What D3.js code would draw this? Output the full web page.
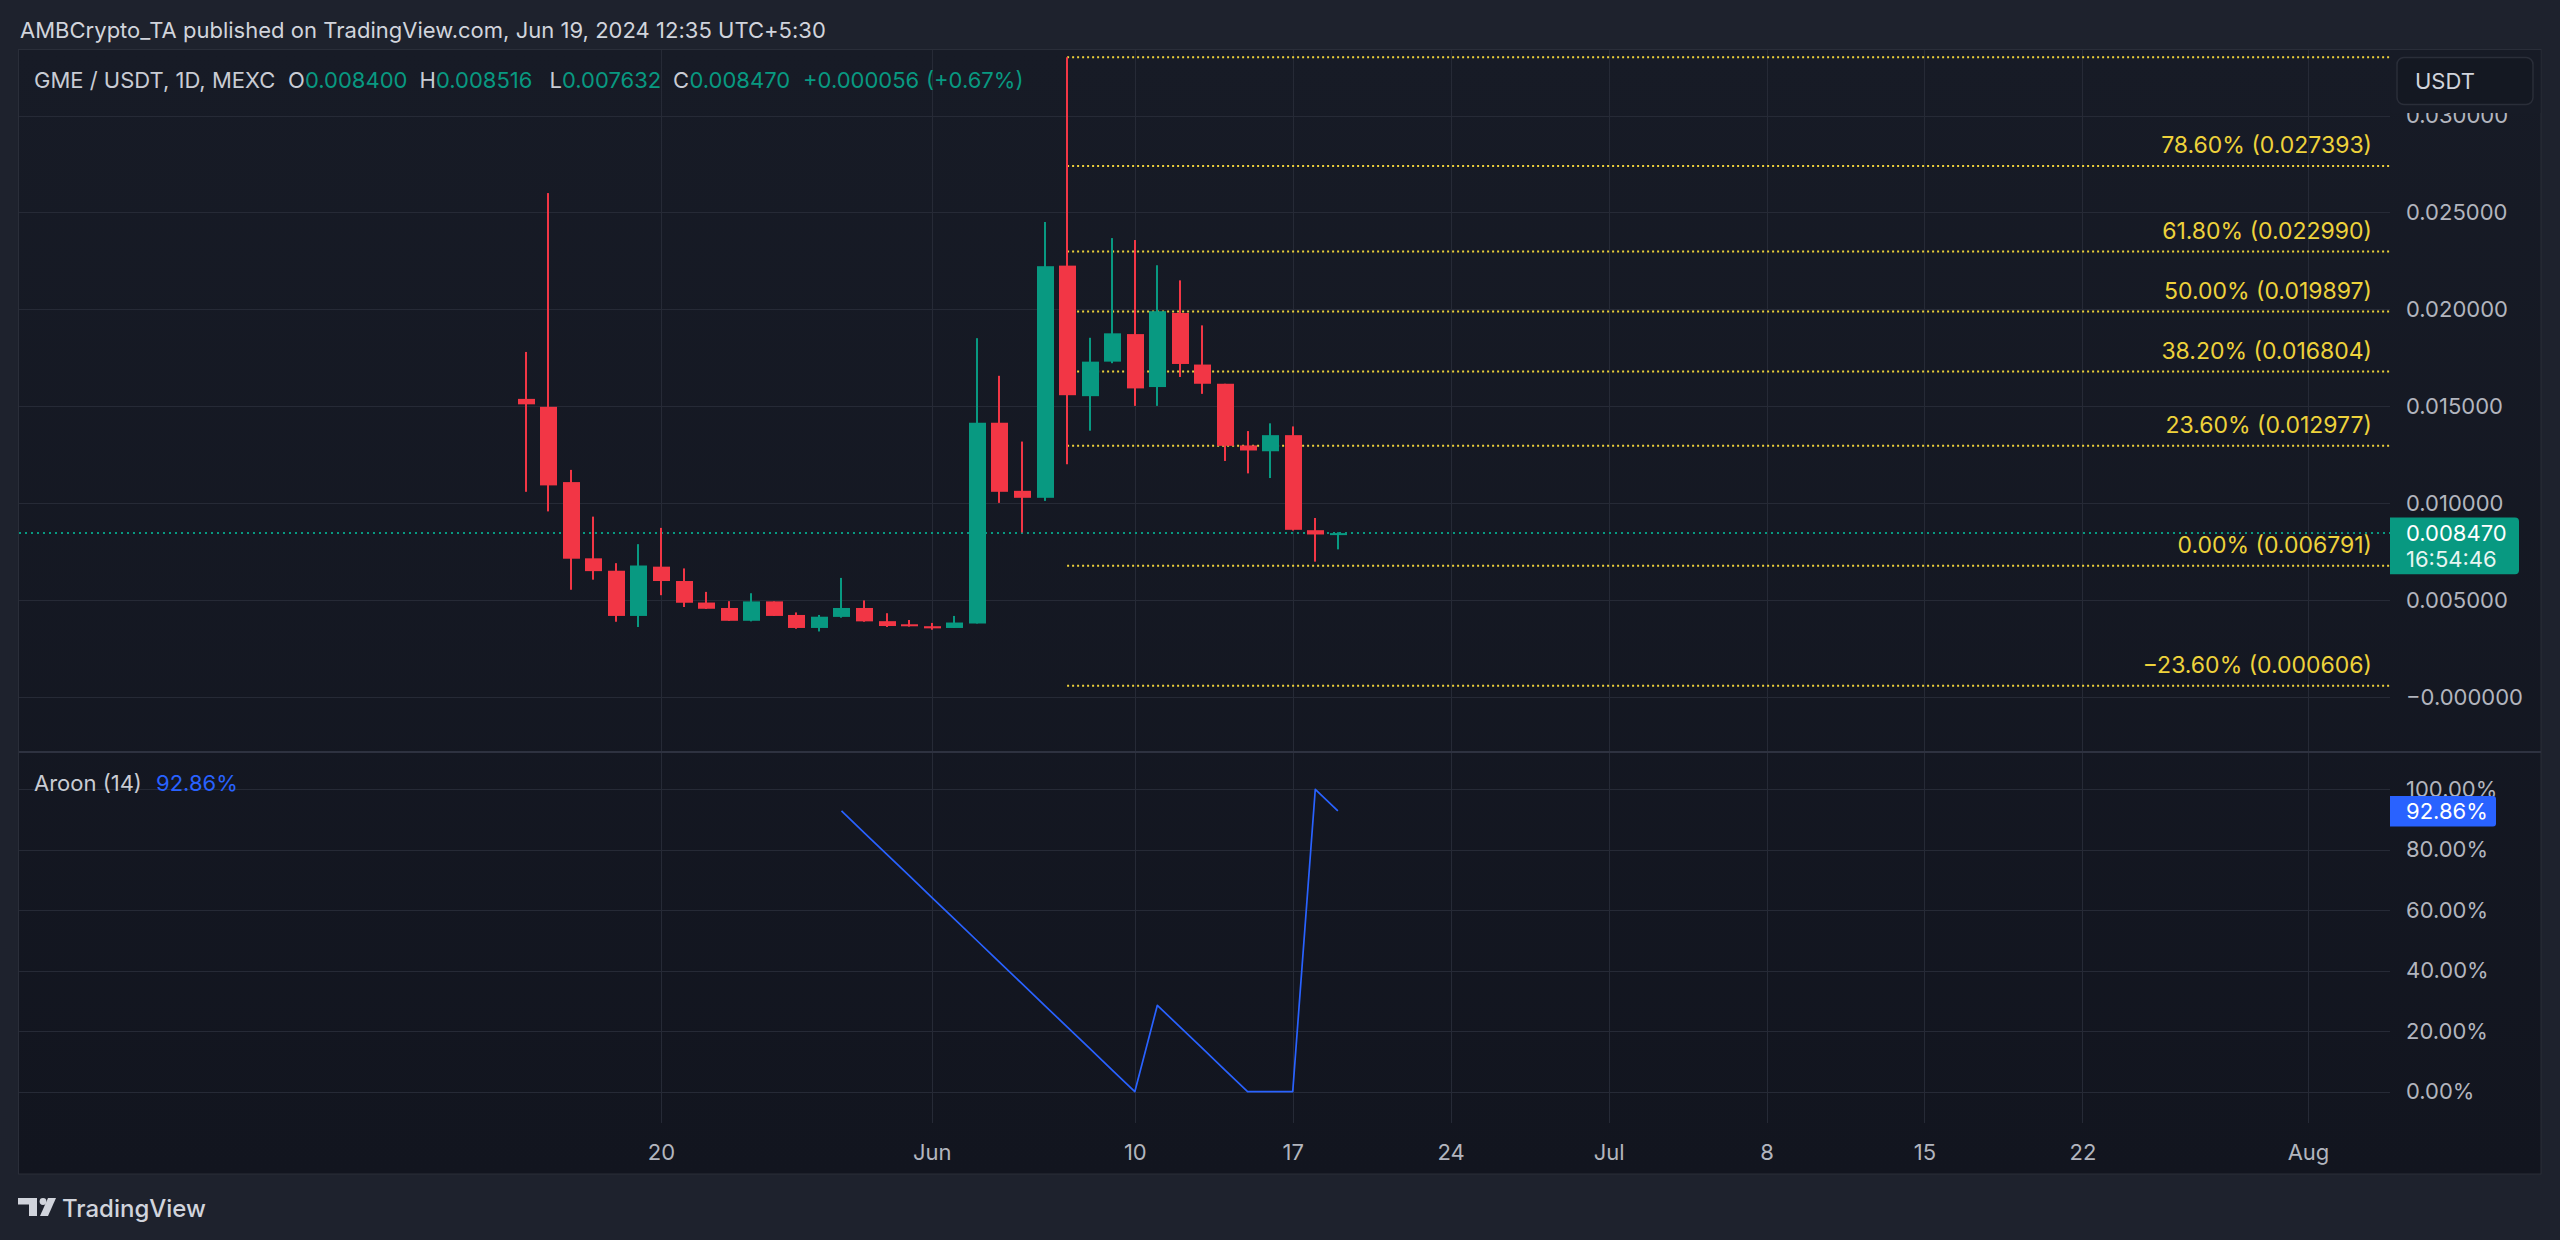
<!DOCTYPE html>
<html><head><meta charset="utf-8">
<script src="https://cdn.jsdelivr.net/npm/d3@7"></script>
<style>html,body{margin:0;padding:0;background:#1e222d;overflow:hidden}svg{display:block}</style>
</head><body><svg id="c" width="2560" height="1240"></svg>
<script>
// ---------- DATA ----------
const dates  = ["2024-05-14","2024-05-15","2024-05-16","2024-05-17","2024-05-18","2024-05-19","2024-05-20","2024-05-21","2024-05-22","2024-05-23","2024-05-24","2024-05-25","2024-05-26","2024-05-27","2024-05-28","2024-05-29","2024-05-30","2024-05-31","2024-06-01","2024-06-02","2024-06-03","2024-06-04","2024-06-05","2024-06-06","2024-06-07","2024-06-08","2024-06-09","2024-06-10","2024-06-11","2024-06-12","2024-06-13","2024-06-14","2024-06-15","2024-06-16","2024-06-17","2024-06-18","2024-06-19"];
const opens  = [0.01539,0.01498,0.01110,0.00717,0.00653,0.00420,0.00674,0.00600,0.00489,0.00461,0.00395,0.00495,0.00425,0.00358,0.00415,0.00461,0.00393,0.00377,0.00367,0.00358,0.00381,0.01416,0.01065,0.01029,0.02226,0.01553,0.01731,0.01873,0.01600,0.01982,0.01716,0.01617,0.01299,0.01269,0.01352,0.00862,0.00840];
const highs  = [0.01781,0.02600,0.01173,0.00932,0.00692,0.00790,0.00874,0.00665,0.00544,0.00496,0.00537,0.00495,0.00438,0.00425,0.00616,0.00500,0.00434,0.00399,0.00384,0.00420,0.01852,0.01658,0.01319,0.02451,0.03300,0.01854,0.02368,0.02358,0.02228,0.02150,0.01918,0.01617,0.01373,0.01413,0.01397,0.00925,0.008516];
const lows   = [0.01060,0.00959,0.00555,0.00607,0.00390,0.00363,0.00527,0.00466,0.00456,0.00395,0.00392,0.00420,0.00354,0.00340,0.00411,0.00390,0.00363,0.00365,0.00349,0.00358,0.00381,0.01003,0.00850,0.01013,0.01202,0.01375,0.01723,0.01503,0.01503,0.01652,0.01565,0.01219,0.01155,0.01131,0.00860,0.00700,0.007632];
const closes = [0.01511,0.01093,0.00715,0.00651,0.00420,0.00680,0.00600,0.00488,0.00457,0.00395,0.00495,0.00420,0.00358,0.00416,0.00461,0.00392,0.00368,0.00367,0.00356,0.00386,0.01416,0.01060,0.01029,0.02223,0.01558,0.01731,0.01877,0.01593,0.01991,0.01719,0.01617,0.01297,0.01273,0.01352,0.00864,0.00840,0.00847];

const aroonDates = ["2024-05-28","2024-05-29","2024-05-30","2024-05-31","2024-06-01","2024-06-02","2024-06-03","2024-06-04","2024-06-05","2024-06-06","2024-06-07","2024-06-08","2024-06-09","2024-06-10","2024-06-11","2024-06-12","2024-06-13","2024-06-14","2024-06-15","2024-06-16","2024-06-17","2024-06-18","2024-06-19"];
const aroonValues = [92.86,85.71,78.57,71.43,64.29,57.14,50.00,42.86,35.71,28.57,21.43,14.29,7.14,0,28.57,21.43,14.29,7.14,0,0,0,100,92.86];

const fibStartDate = "2024-06-07";
const fibValues = [0.033003,0.027393,0.022990,0.019897,0.016804,0.012977,0.006791,0.000606];
const fibLabels = ["","78.60% (0.027393)","61.80% (0.022990)","50.00% (0.019897)","38.20% (0.016804)","23.60% (0.012977)","0.00% (0.006791)","\u221223.60% (0.000606)"];

const lastPrice = 0.008470;
const lastPriceLabel = "0.008470";
const countdownLabel = "16:54:46";
const lastAroon = 92.86;
const lastAroonLabel = "92.86%";

const priceTicks = [0,0.005,0.010,0.015,0.020,0.025,0.030];
const priceTickLabels = ["\u22120.000000","0.005000","0.010000","0.015000","0.020000","0.025000","0.030000"];
const aroonTicks = [0,20,40,60,80,100];
const aroonTickLabels = ["0.00%","20.00%","40.00%","60.00%","80.00%","100.00%"];
const xTickDates = ["2024-05-20","2024-06-01","2024-06-10","2024-06-17","2024-06-24","2024-07-01","2024-07-08","2024-07-15","2024-07-22","2024-08-01"];
const xTickLabels = ["20","Jun","10","17","24","Jul","8","15","22","Aug"];

const headerText = "AMBCrypto_TA published on TradingView.com, Jun 19, 2024 12:35 UTC+5:30";
const legendTitle = "GME / USDT, 1D, MEXC";
const legendOHLC = [["O","0.008400"],["H","0.008516"],["L","0.007632"],["C","0.008470"]];
const legendChange = ["+0.000056","(+0.67%)"];

// ---------- LAYOUT ----------
const FONT = "Inter, 'Noto Sans', sans-serif";
const plotL = 19, plotR = 2390, frameR = 2541;
const pTop = 50, pBot = 752, aBot = 1123, frameB = 1174;
const UP = "#089981", DOWN = "#f23645", FIB = "#eed23b", GRID = "#262a36", AXT = "#b2b5be";

const parse = d3.utcParse("%Y-%m-%d");
const x = d3.scaleUtc().domain([parse("2024-05-20"), parse("2024-08-01")]).range([661, 2308]);
const yP = d3.scaleLinear().domain([0, 0.03]).range([697.4, 115.5]);
const yA = d3.scaleLinear().domain([0, 100]).range([1091.7, 789.3]);

const svg = d3.select("#c").style("font-family", FONT);
const defs = svg.append("defs");
const grad = defs.append("linearGradient").attr("id","bg").attr("x1",0).attr("y1",0).attr("x2",0).attr("y2",1);
grad.append("stop").attr("offset","0%").attr("stop-color","#171b26");
grad.append("stop").attr("offset","100%").attr("stop-color","#12151f");
defs.append("clipPath").attr("id","clipP").append("rect").attr("x",plotL).attr("y",pTop).attr("width",plotR-plotL).attr("height",pBot-pTop);
defs.append("clipPath").attr("id","clipA").append("rect").attr("x",plotL).attr("y",pBot+1).attr("width",plotR-plotL).attr("height",aBot-pBot-1);

svg.append("rect").attr("width",2560).attr("height",1240).attr("fill","#1e222d");
svg.append("rect").attr("x",18.5).attr("y",49.5).attr("width",frameR-18.5).attr("height",frameB-49.5)
  .attr("fill","url(#bg)").attr("stroke","#2a2e39").attr("stroke-width",1);

// grid
const g = svg.append("g");
g.selectAll(".vg").data(xTickDates).join("line")
  .attr("x1",d=>Math.round(x(parse(d)))+0.5).attr("x2",d=>Math.round(x(parse(d)))+0.5)
  .attr("y1",pTop).attr("y2",aBot).attr("stroke",GRID).attr("stroke-width",1);
g.selectAll(".hp").data(priceTicks).join("line")
  .attr("x1",plotL).attr("x2",plotR).attr("y1",d=>Math.round(yP(d))+0.5).attr("y2",d=>Math.round(yP(d))+0.5)
  .attr("stroke",GRID).attr("stroke-width",1);
g.selectAll(".ha").data(aroonTicks).join("line")
  .attr("x1",plotL).attr("x2",plotR).attr("y1",d=>Math.round(yA(d))+0.5).attr("y2",d=>Math.round(yA(d))+0.5)
  .attr("stroke",GRID).attr("stroke-width",1);
// pane separator
svg.append("line").attr("x1",plotL).attr("x2",frameR).attr("y1",pBot).attr("y2",pBot).attr("stroke","#2e3240").attr("stroke-width",2);

// price pane
const pp = svg.append("g").attr("clip-path","url(#clipP)");
const fx0 = x(parse(fibStartDate));
pp.selectAll(".fib").data(fibValues).join("line")
  .attr("x1",fx0).attr("x2",plotR).attr("y1",d=>yP(d)).attr("y2",d=>yP(d))
  .attr("stroke",FIB).attr("stroke-width",2).attr("stroke-dasharray","2,3");
pp.append("line").attr("x1",plotL).attr("x2",plotR).attr("y1",yP(lastPrice)).attr("y2",yP(lastPrice))
  .attr("stroke",UP).attr("stroke-width",2).attr("stroke-dasharray","2,4");

const candles = dates.map((d,i)=>({d:parse(d),o:opens[i],h:highs[i],l:lows[i],c:closes[i]}));
const cg = pp.append("g");
cg.selectAll(".wick").data(candles).join("rect")
  .attr("x",d=>Math.round(x(d.d))-1).attr("width",2)
  .attr("y",d=>yP(d.h)).attr("height",d=>Math.max(1,yP(d.l)-yP(d.h)))
  .attr("fill",d=>d.c>=d.o?UP:DOWN);
cg.selectAll(".body").data(candles).join("rect")
  .attr("x",d=>Math.round(x(d.d))-8).attr("width",17)
  .attr("y",d=>yP(Math.max(d.o,d.c))).attr("height",d=>Math.max(2,Math.abs(yP(d.o)-yP(d.c))))
  .attr("fill",d=>d.c>=d.o?UP:DOWN);

pp.selectAll(".fibl").data(fibValues.map((v,i)=>({v,t:fibLabels[i]})).filter(d=>d.t)).join("text")
  .attr("x",2372).attr("y",d=>yP(d.v)-21).attr("dy","0.36em").attr("text-anchor","end")
  .attr("fill",FIB).attr("font-size",23).text(d=>d.t);

// aroon pane
const ap = svg.append("g").attr("clip-path","url(#clipA)");
const aData = aroonDates.map((d,i)=>({d:parse(d),v:aroonValues[i]}));
ap.append("path").datum(aData)
  .attr("d",d3.line().x(d=>x(d.d)).y(d=>yA(d.v)))
  .attr("fill","none").attr("stroke","#2962ff").attr("stroke-width",1.7).attr("stroke-linejoin","round");

// price axis
const pax = svg.append("g").attr("transform",`translate(${plotR},0)`)
  .call(d3.axisRight(yP).tickValues(priceTicks).tickSize(0).tickPadding(16).tickFormat((d,i)=>priceTickLabels[i]));
pax.select(".domain").remove();
pax.selectAll("text").attr("fill",AXT).attr("font-size",22).attr("font-family",FONT);
// cover behind USDT box
svg.append("rect").attr("x",plotR+1).attr("y",50).attr("width",frameR-plotR-1.5).attr("height",63).attr("fill","#171b26");
svg.append("rect").attr("x",2397).attr("y",57.5).attr("width",136).attr("height",47).attr("rx",7)
  .attr("fill","#141822").attr("stroke","#2a2e39").attr("stroke-width",1.5);
svg.append("text").attr("x",2415).attr("y",81).attr("dy","0.36em").attr("fill","#d1d4dc").attr("font-size",22).text("USDT");

// aroon axis
const aax = svg.append("g").attr("transform",`translate(${plotR},0)`)
  .call(d3.axisRight(yA).tickValues(aroonTicks).tickSize(0).tickPadding(16).tickFormat((d,i)=>aroonTickLabels[i]));
aax.select(".domain").remove();
aax.selectAll("text").attr("fill",AXT).attr("font-size",22).attr("font-family",FONT);

// last price label
const ly = yP(lastPrice);
svg.append("path").attr("d",`M${plotR},${ly-15.5} h125 a4,4 0 0 1 4,4 v48.6 a4,4 0 0 1 -4,4 h-125 z`).attr("fill",UP);
svg.append("text").attr("x",2406).attr("y",ly).attr("dy","0.36em").attr("fill","#ffffff").attr("font-size",22).text(lastPriceLabel);
svg.append("text").attr("x",2406).attr("y",ly+26.3).attr("dy","0.36em").attr("fill","#e8f5f2").attr("font-size",22).text(countdownLabel);

// last aroon label
const lay = yA(lastAroon);
svg.append("path").attr("d",`M${plotR},${lay-15} h103 a3,3 0 0 1 3,3 v24.7 a3,3 0 0 1 -3,3 h-103 z`).attr("fill","#2962ff");
svg.append("text").attr("x",2406).attr("y",lay+0.5).attr("dy","0.36em").attr("fill","#ffffff").attr("font-size",22).text(lastAroonLabel);

// x axis
const xax = svg.append("g").attr("transform",`translate(0,${aBot})`)
  .call(d3.axisBottom(x).tickValues(xTickDates.map(parse)).tickSize(0).tickPadding(0).tickFormat((d,i)=>xTickLabels[i]));
xax.select(".domain").remove();
xax.selectAll("text").attr("fill",AXT).attr("font-size",22).attr("font-family",FONT)
  .attr("y",29).attr("dy","0.36em");

// header (letter-spacing tuned so the line spans the same width as the reference)
const hdr = svg.append("text").attr("x",20).attr("y",30).attr("dy","0.36em").attr("fill","#d1d4dc")
  .attr("font-size",22).text(headerText);
const hLen = hdr.node().getComputedTextLength();
if (hLen > 0 && hLen < 806) hdr.attr("letter-spacing", ((806 - hLen) / (headerText.length - 1)).toFixed(2));

// legend
const lg = svg.append("text").attr("y",80).attr("dy","0.36em").attr("font-size",22);
lg.append("tspan").attr("x",34).attr("fill","#c9ccd4").text(legendTitle);
const lx = [[288,305],[419.5,436],[549.5,562],[673,689.5]];
legendOHLC.forEach((p,i)=>{
  lg.append("tspan").attr("x",lx[i][0]).attr("fill","#c9ccd4").text(p[0]);
  lg.append("tspan").attr("x",lx[i][1]).attr("fill",UP).text(p[1]);
});
lg.append("tspan").attr("x",803).attr("fill",UP).text(legendChange[0]);
lg.append("tspan").attr("x",926).attr("fill",UP).text(legendChange[1]);

const al = svg.append("text").attr("y",783).attr("dy","0.36em").attr("font-size",22);
al.append("tspan").attr("x",34).attr("fill","#c9ccd4").text("Aroon (14)");
al.append("tspan").attr("x",156).attr("fill","#2962ff").text(lastAroonLabel);

// TradingView logo
const logo = svg.append("g").attr("fill","#d1d4dc");
logo.append("rect").attr("x",18).attr("y",1198).attr("width",19).attr("height",6.5);
logo.append("rect").attr("x",29).attr("y",1198).attr("width",8).attr("height",18);
logo.append("circle").attr("cx",43).attr("cy",1201.5).attr("r",3.4);
logo.append("path").attr("d","M48,1198 L56,1198 L48,1216 L40,1216 Z");
svg.append("text").attr("x",62).attr("y",1208).attr("dy","0.36em").attr("fill","#d1d4dc").attr("font-size",24).attr("font-weight",500).text("TradingView");
</script></body></html>
